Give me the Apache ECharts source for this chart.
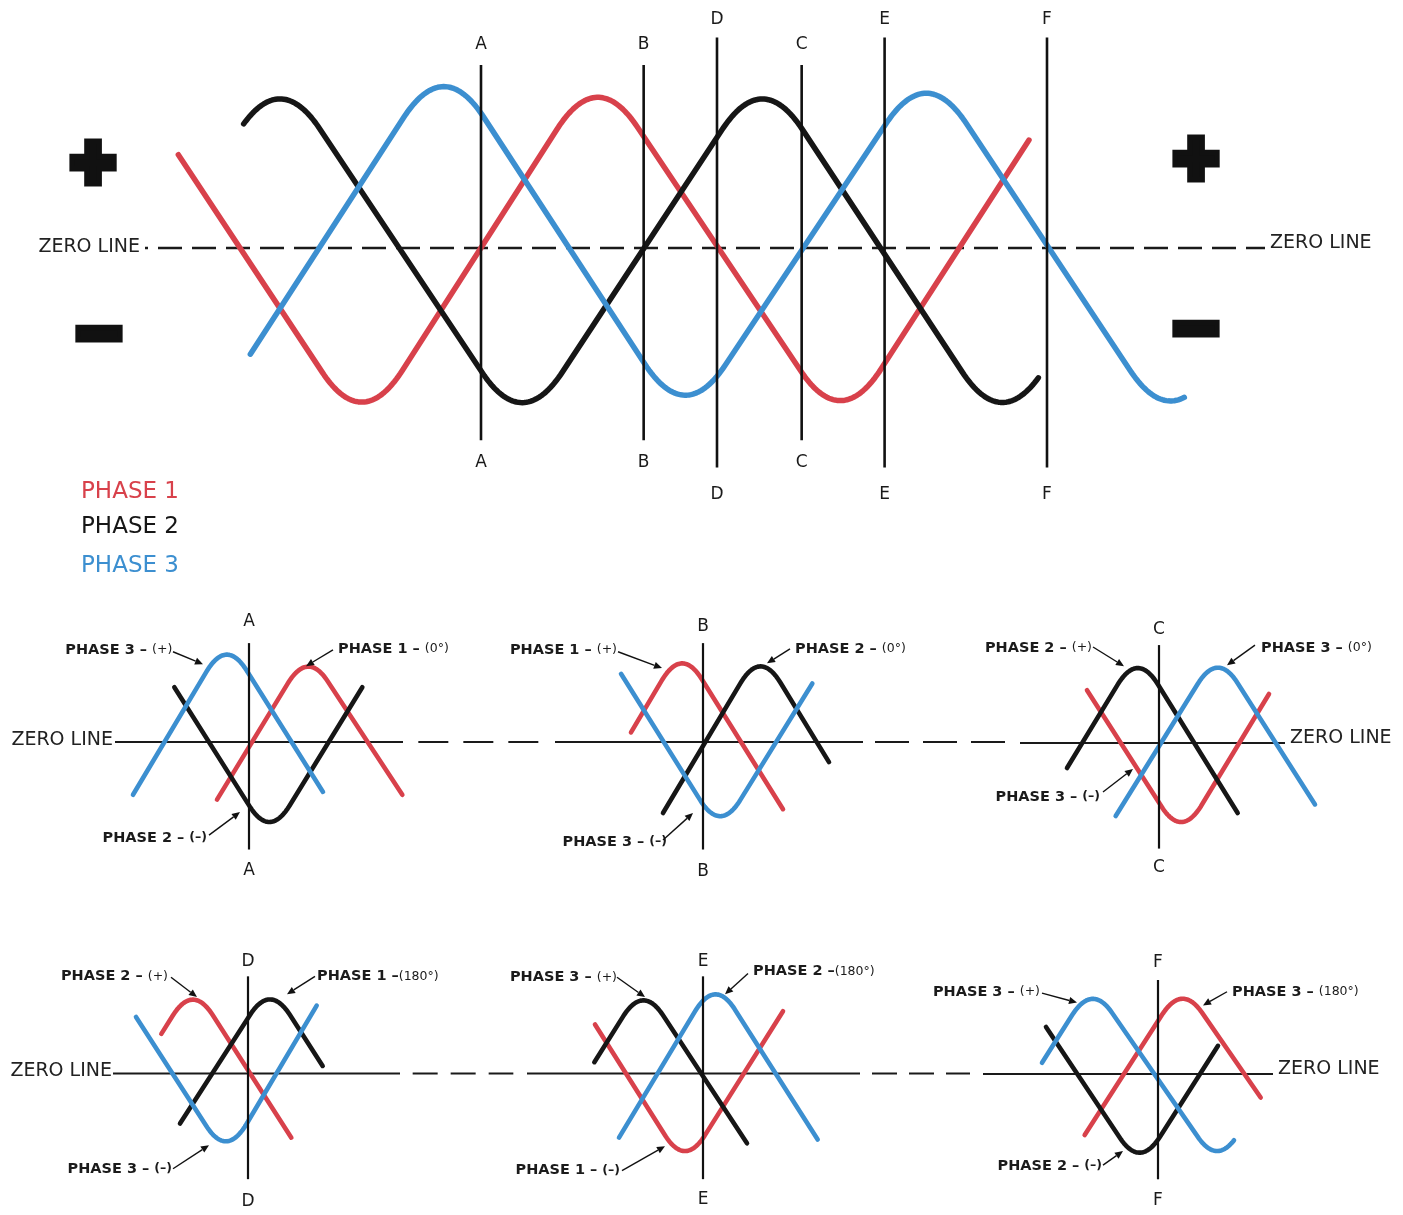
<!DOCTYPE html>
<html>
<head>
<meta charset="utf-8">
<script src="https://cdn.jsdelivr.net/npm/echarts@6/dist/echarts.min.js"></script>
<style>
  html, body { margin: 0; padding: 0; background: #ffffff; }
  #chart { width: 1403px; height: 1215px; }
</style>
</head>
<body>
<div id="chart"></div>
<script>
const RED = '#d8414b', BLACK = '#161616', BLUE = '#3c8fd0', INK = '#1a1a1a';
const FONT = '"DejaVu Sans", "Noto Sans", sans-serif';

// ---- full sweep: [electrical degrees, value]; value 1 = corner of the wave ----
// first / last pairs are where a trace stops, the pairs between are its corners
const phase1 = [[-227, 0.51], [-89, -1.01], [87, 0.99], [270, -1.0], [411, 0.59]];
const phase2 = [[-178, 0.68], [-151, 0.98], [31, -1.01], [211, 0.98], [391, -1.01], [419, -0.70]];
const phase3 = [[-173, -0.58], [-28, 1.05], [153, -0.97], [334, 1.01], [517, -1.0], [528, -0.88]];

// section lines through the sweep: [degrees, line top, line bottom, label top, label bottom]
const cutNames = ['A', 'B', 'C', 'D', 'E', 'F'];
const mainCuts = [
  [0, 1.0, -1.05, 1.11, -1.17],
  [122, 1.0, -1.05, 1.11, -1.17],
  [240.5, 1.0, -1.05, 1.11, -1.17],
  [177, 1.15, -1.2, 1.25, -1.35],
  [302.7, 1.15, -1.2, 1.25, -1.35],
  [424.5, 1.15, -1.2, 1.25, -1.35]
];
const mainZero = [-252, 588];

// ---- close-ups at each section line ----
const panelCutDeg = [0, 120, 240, 180, 300, 420];
const panelCutSpan = [
  [1.03, -1.12, 1.25, -1.34],
  [1.03, -1.12, 1.20, -1.35],
  [1.02, -1.10, 1.18, -1.30],
  [1.03, -1.12, 1.19, -1.36],
  [1.03, -1.12, 1.19, -1.34],
  [1.00, -1.12, 1.19, -1.35]
];

const aPhase1 = [[-48, -0.6], [88, 0.95], [230, -0.55]];
const aPhase2 = [[-112, 0.57], [31, -1.0], [170, 0.57]];
const aPhase3 = [[-174, -0.55], [-34, 1.08], [111, -0.52]];

const bPhase1 = [[12, 0.1], [88, 0.99], [240, -0.70]];
const bPhase2 = [[60, -0.74], [206, 0.96], [309, -0.21]];
const bPhase3 = [[-3, 0.71], [146, -0.94], [284, 0.61]];

const cPhase1 = [[132, 0.55], [274, -0.99], [405, 0.51]];
const cPhase2 = [[102, -0.26], [208, 0.95], [358, -0.73]];
const cPhase3 = [[175, -0.76], [328, 0.95], [474, -0.64]];

const dPhase1 = [[50, 0.42], [97, 0.95], [245, -0.68]];
const dPhase2 = [[78, -0.53], [213, 0.95], [292, 0.08]];
const dPhase3 = [[12, 0.6], [148, -0.89], [283, 0.72]];

const ePhase1 = [[138, 0.52], [273, -0.99], [420, 0.66]];
const ePhase2 = [[137, 0.12], [210, 0.94], [366, -0.74]];
const ePhase3 = [[174, -0.68], [318, 1.01], [472, -0.7]];

const fPhase1 = [[310, -0.65], [456, 0.96], [574, -0.25]];
const fPhase2 = [[252, 0.5], [393, -1.0], [510, 0.3]];
const fPhase3 = [[246, 0.12], [321, 0.96], [510, -0.98], [535, -0.70]];

// zero line of each close-up and the dashed run towards the next one (degrees of that close-up)
const panelZero = [[-201, 231], [-102, 360], [31.5, 429], [-22.5, 408], [36, 535.5], [157.5, 592.5]];
const panelBridge = [[254, 437], [378, 577], null, [427, 578], [553.5, 700.5], null];
const bridgeDash = [[30, 15], [34, 14], null, [25, 13], [25, 12], null];

// callouts: [name, tag, text side, text anchor, arrow start, arrow tip]
const notesA = [
  ['PHASE 3 – ', '(+)', 'right', [-115, 0.96], [-114, 0.94], [-69, 0.81]],
  ['PHASE 1 – ', '(0°)', 'left', [133.5, 0.97], [126, 0.96], [85.5, 0.79]],
  ['PHASE 2 – ', '(–)', 'right', [-63, -1.0], [-60, -0.97], [-13.5, -0.73]]
];
const notesB = [
  ['PHASE 1 – ', '(+)', 'right', [-9, 0.96], [-7.5, 0.94], [58.5, 0.77]],
  ['PHASE 2 – ', '(0°)', 'left', [258, 0.97], [250.5, 0.97], [216, 0.82]],
  ['PHASE 3 – ', '(–)', 'right', [66, -1.04], [60, -1.02], [105, -0.74]]
];
const notesC = [
  ['PHASE 2 – ', '(+)', 'right', [139.5, 0.99], [141, 1.0], [187.5, 0.8]],
  ['PHASE 3 – ', '(0°)', 'left', [393, 0.99], [384, 1.02], [342, 0.81]],
  ['PHASE 3 – ', '(–)', 'right', [151.5, -0.56], [156, -0.51], [201, -0.27]]
];
const notesD = [
  ['PHASE 2 – ', '(+)', 'right', [60, 1.03], [64.5, 1.02], [103.5, 0.81]],
  ['PHASE 1 –', '(180°)', 'left', [283.5, 1.03], [280.5, 1.03], [238.5, 0.84]],
  ['PHASE 3 – ', '(–)', 'right', [66, -1.01], [67.5, -1.01], [121.5, -0.76]]
];
const notesE = [
  ['PHASE 3 – ', '(+)', 'right', [171, 1.02], [171, 1.02], [213, 0.81]],
  ['PHASE 2 –', '(180°)', 'left', [375, 1.08], [367.5, 1.06], [333, 0.84]],
  ['PHASE 1 – ', '(–)', 'right', [175.5, -1.03], [178.5, -1.03], [243, -0.77]]
];
const notesF = [
  ['PHASE 3 – ', '(+)', 'right', [243, 0.875], [246, 0.86], [298.5, 0.76]],
  ['PHASE 3 – ', '(180°)', 'left', [531, 0.875], [523.5, 0.875], [487.5, 0.73]],
  ['PHASE 2 – ', '(–)', 'right', [336, -0.98], [337.5, -0.97], [367.5, -0.82]]
];
// "ZERO LINE" captions: [panel index, degrees, value, side]
const zeroCaptions = [[0, -204, 0.02, 'right'], [2, 436.5, 0.05, 'left'], [3, -24, 0.03, 'right'], [5, 600, 0.05, 'left']];

const legendNames = ['PHASE 1', 'PHASE 2', 'PHASE 3'];
const legendColors = [RED, BLACK, BLUE];

// ---------- drawing helpers ----------
// straight runs between corners, each corner eased by a quadratic curve spanning +/- r degrees
function roundCorners(pts, r) {
  const n = pts.length, out = [];
  const at = (p, q, x) => [x, p[1] + (q[1] - p[1]) * (x - p[0]) / (q[0] - p[0])];
  const x0 = pts[0][0], x1 = pts[n - 1][0];
  if (pts[1][0] - r > x0) out.push(pts[0]);
  for (let i = 1; i < n - 1; i++) {
    const L = pts[i - 1], P = pts[i], R = pts[i + 1];
    const A = at(L, P, P[0] - r), B = at(P, R, P[0] + r);
    for (let k = 0; k <= 40; k++) {
      const t = k / 40, u = 1 - t;
      const q = [u * u * A[0] + 2 * u * t * P[0] + t * t * B[0], u * u * A[1] + 2 * u * t * P[1] + t * t * B[1]];
      if (q[0] >= x0 && q[0] <= x1) out.push(q);
    }
  }
  if (pts[n - 2][0] + r < x1) out.push(pts[n - 1]);
  return out;
}

function waveSeries(g, name, pts, color, lw) {
  return {
    type: 'custom', name, xAxisIndex: g, yAxisIndex: g, clip: false, silent: true, z: 3,
    encode: { x: 0, y: 1 }, data: pts,
    renderItem(params, api) {
      if (params.dataIndex !== 0) return null;
      const points = roundCorners(pts, 30).map(p => api.coord(p));
      return { type: 'polyline', shape: { points },
        style: { stroke: color, lineWidth: lw, fill: null, lineCap: 'round', lineJoin: 'round' } };
    }
  };
}

function cutSeries(g, rows, names, lw, fontSize) {
  return {
    type: 'custom', xAxisIndex: g, yAxisIndex: g, clip: false, silent: true, z: 4,
    encode: { x: 0, y: 1 }, data: rows,
    renderItem(params, api) {
      const x = api.value(0);
      const p1 = api.coord([x, api.value(1)]), p2 = api.coord([x, api.value(2)]);
      const t = api.coord([x, api.value(3)]), b = api.coord([x, api.value(4)]);
      const name = names[params.dataIndex];
      const txt = (p) => ({ type: 'text', x: p[0], y: p[1],
        style: { text: name, fill: INK, font: fontSize + 'px ' + FONT, align: 'center', verticalAlign: 'middle' } });
      return { type: 'group', children: [
        { type: 'line', shape: { x1: p1[0], y1: p1[1], x2: p2[0], y2: p2[1] }, style: { stroke: '#111', lineWidth: lw } },
        txt(t), txt(b)
      ] };
    }
  };
}

function segSeries(g, from, to, width, dash, offset) {
  return {
    type: 'line', xAxisIndex: g, yAxisIndex: g, data: [[from, 0], [to, 0]], symbol: 'none',
    clip: false, silent: true, z: 2, animation: false,
    lineStyle: { color: INK, width, type: dash || 'solid', dashOffset: offset || 0, cap: 'butt' }
  };
}

function noteSeries(g, notes) {
  return {
    type: 'custom', xAxisIndex: g, yAxisIndex: g, clip: false, silent: true, z: 5,
    encode: { x: 0, y: 1 }, data: notes.map(n => n[3]),
    renderItem(params, api) {
      const n = notes[params.dataIndex];
      const a = api.coord(n[3]), f = api.coord(n[4]), tip = api.coord(n[5]);
      const dx = tip[0] - f[0], dy = tip[1] - f[1], len = Math.hypot(dx, dy);
      const ux = dx / len, uy = dy / len, hl = 8, hw = 3.6;
      const bx = tip[0] - ux * hl, by = tip[1] - uy * hl;
      return { type: 'group', children: [
        { type: 'text', x: a[0], y: a[1], style: {
          text: '{b|' + n[0] + '}{s|' + n[1] + '}', align: n[2], verticalAlign: 'middle',
          rich: {
            b: { fontFamily: FONT, fontWeight: 'bold', fontSize: 14.5, fill: '#1b1b1b' },
            s: { fontFamily: FONT, fontWeight: n[1] === '(–)' ? 'bold' : 'normal', fontSize: 12.5, fill: '#1b1b1b' }
          } } },
        { type: 'line', shape: { x1: f[0], y1: f[1], x2: bx, y2: by }, style: { stroke: '#111', lineWidth: 1.4 } },
        { type: 'polygon', shape: { points: [tip, [bx - uy * hw, by + ux * hw], [bx + uy * hw, by - ux * hw]] },
          style: { fill: '#111' } }
      ] };
    }
  };
}

function captionSeries(g, items) {
  return {
    type: 'custom', xAxisIndex: g, yAxisIndex: g, clip: false, silent: true, z: 5,
    encode: { x: 0, y: 1 }, data: items.map(c => [c[0], c[1]]),
    renderItem(params, api) {
      const c = items[params.dataIndex];
      const p = api.coord([c[0], c[1]]);
      return { type: 'text', x: p[0], y: p[1], style: {
        text: 'ZERO LINE', fill: '#222', font: '19px ' + FONT, align: c[2], verticalAlign: 'middle' } };
    }
  };
}

// ---------- layout ----------
const grids = [], xAxes = [], yAxes = [], series = [];
function addGrid(left, top, width, height, xmin, xmax, ymin, ymax) {
  const i = grids.length;
  grids.push({ left, top, width, height, containLabel: false, show: false });
  xAxes.push({ type: 'value', gridIndex: i, min: xmin, max: xmax, show: false });
  yAxes.push({ type: 'value', gridIndex: i, min: ymin, max: ymax, show: false });
  return i;
}

// main sweep: 4/3 px per degree, 183 px per unit, zero line at y = 248
const gMain = addGrid(1, 10.1, 1320, 475.8, -360, 630, -1.3, 1.3);
series.push(segSeries(gMain, mainZero[0], mainZero[1], 2.6, [24, 10], 21));
series.push(waveSeries(gMain, 'PHASE 1', phase1, RED, 5.5));
series.push(waveSeries(gMain, 'PHASE 2', phase2, BLACK, 5.5));
series.push(waveSeries(gMain, 'PHASE 3', phase3, BLUE, 5.5));
series.push(cutSeries(gMain, mainCuts, cutNames, 2.6, 17));
series.push(captionSeries(gMain, [[-255.75, 0.005, 'right'], [591.75, 0.027, 'left']]));

// close-ups: 2/3 px per degree, 96 px per unit; panels with a dashed run get extra room on the right
const panelCentre = [[249, 742], [703, 742], [1159, 743], [248, 1076], [703, 1076], [1158, 1077]];
const panelWaves = [
  [aPhase1, aPhase2, aPhase3], [bPhase1, bPhase2, bPhase3], [cPhase1, cPhase2, cPhase3],
  [dPhase1, dPhase2, dPhase3], [ePhase1, ePhase2, ePhase3], [fPhase1, fPhase2, fPhase3]
];
const panelNotes = [notesA, notesB, notesC, notesD, notesE, notesF];
const panelGrids = [];
panelCutDeg.forEach((deg, i) => {
  const [cx, cy] = panelCentre[i];
  const right = panelBridge[i] ? 480 : 360;
  const g = addGrid(cx - 240, cy - 144, (360 + right) * 2 / 3, 288, deg - 360, deg + right, -1.5, 1.5);
  panelGrids.push(g);
  series.push(segSeries(g, panelZero[i][0], panelZero[i][1], 2.2));
  if (panelBridge[i]) series.push(segSeries(g, panelBridge[i][0], panelBridge[i][1], 2.2, bridgeDash[i]));
  const [w1, w2, w3] = panelWaves[i];
  series.push(waveSeries(g, 'PHASE 1', w1, RED, 4.6));
  series.push(waveSeries(g, 'PHASE 2', w2, BLACK, 4.6));
  series.push(waveSeries(g, 'PHASE 3', w3, BLUE, 4.6));
  const s = panelCutSpan[i];
  series.push(cutSeries(g, [[deg, s[0], s[1], s[2], s[3]]], [cutNames[i]], 2.2, 17));
  series.push(noteSeries(g, panelNotes[i]));
});
zeroCaptions.forEach(c => series.push(captionSeries(panelGrids[c[0]], [[c[1], c[2], c[3]]])));

// polarity signs and the colour key
const signStyle = (t) => ({ text: t, font: 'bold 58px ' + FONT, fill: '#111', stroke: '#111', lineWidth: 11,
  lineJoin: 'round', align: 'center', verticalAlign: 'middle' });
const graphic = [
  { type: 'text', x: 93, y: 166, style: signStyle('+') },
  { type: 'text', x: 1196, y: 162, style: signStyle('+') },
  { type: 'text', x: 99, y: 337, style: signStyle('−') },
  { type: 'text', x: 1196, y: 332, style: signStyle('−') }
];
legendNames.forEach((name, i) => {
  graphic.push({ type: 'text', x: 81, y: [492, 527, 566][i],
    style: { text: name, fill: legendColors[i], font: '23px ' + FONT, verticalAlign: 'middle' } });
});

const chart = echarts.init(document.getElementById('chart'), null, { renderer: 'canvas' });
chart.setOption({
  backgroundColor: '#ffffff',
  animation: false,
  grid: grids,
  xAxis: xAxes,
  yAxis: yAxes,
  series,
  graphic
});
</script>
</body>
</html>
